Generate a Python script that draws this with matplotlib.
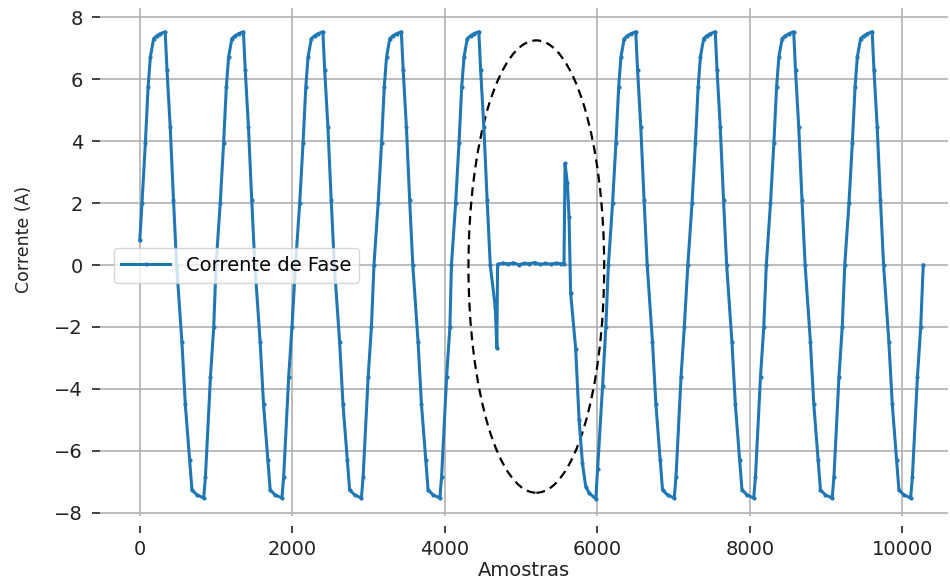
import matplotlib as mpl
mpl.use('Agg')
import matplotlib.pyplot as plt
from matplotlib.patches import Ellipse
import numpy as np

# one period of the phase current
# (sample offset from the rising zero crossing, current in A)
cycle_offsets = [0, 55, 99, 135, 165, 208, 250, 297, 359, 383, 425, 468, 509,
                 578, 623, 679, 710, 776, 864, 887, 953, 996, 1029]
cycle_values = [0.0, 2.0, 3.93, 5.75, 6.72, 7.31, 7.40, 7.47, 7.53, 6.29, 4.46, 2.1, 0.0,
                -2.47, -4.5, -6.3, -7.26, -7.42, -7.52, -6.83, -3.6, -1.99, 0.0]

# rising zero crossings of each full cycle
cycle_starts = [-26, 1000, 2042, 3071, 4087, 6145, 7187, 8216, 9245]

# the interruption (fault) between ~4600 and ~6100 samples
gap_x = [4661, 4683, 4692, 4760, 4830, 4900, 4970, 5040, 5110, 5180, 5250, 5320,
         5390, 5460, 5530, 5563, 5577, 5607, 5629, 5650, 5716, 5761, 5805, 5848,
         5893, 5980, 6003, 6069, 6112]
gap_y = [-1.35, -2.69, 0.02, 0.06, 0.03, 0.07, 0.01, 0.05, 0.04, 0.08, 0.02, 0.05,
         0.03, 0.06, 0.04, 0.03, 3.28, 2.64, 1.56, -0.9, -2.7, -5.0, -6.4, -7.15,
         -7.36, -7.55, -6.6, -3.9, -1.99]

# dashed ellipse marking the fault
ell_center = (5200, -0.05)
ell_width = 1780
ell_height = 14.6

# assemble the trace
xs = [0]
ys = [0.8]
for i, start in enumerate(cycle_starts):
	last = (i == len(cycle_starts) - 1)
	for off, val in zip(cycle_offsets, cycle_values):
		x = start + off
		if x <= xs[-1]:
			continue
		if off == cycle_offsets[-1] and not last:
			continue
		xs.append(x)
		ys.append(val)
		# cycle 5 is cut at its falling zero crossing
		if start == 4087 and off == 509:
			break
	if start == 4087:
		xs.extend(gap_x)
		ys.extend(gap_y)

fig = plt.figure(figsize=(9.5, 5.85), dpi=100)
ax = fig.add_axes([0.105, 0.118, 0.893, 0.868])

ax.plot(xs, ys, color='#1f77b4', lw=2.2, marker='.', markersize=4, label='Corrente de Fase')
ax.add_patch(Ellipse(ell_center, ell_width, ell_height, fill=False, color='black',
                     lw=1.6, linestyle=(0, (4, 2.5))))

ax.set_xlim(-525, 10600)
ax.set_ylim(-8.1, 8.29)
ax.set_xticks(np.arange(0, 10001, 2000))
ax.set_yticks(np.arange(-8, 9, 2))
ax.grid(True, color='#b0b0b0', lw=1.2)
ax.set_axisbelow(True)

for s in ax.spines.values():
	s.set_visible(False)
ax.spines['bottom'].set_position(('outward', 7))

ax.tick_params(axis='x', length=5, width=1.3, color='#333333', labelsize=14, labelcolor='#222222', pad=5)
ax.tick_params(axis='y', length=6, width=1.3, color='#333333', labelsize=14, labelcolor='#222222', pad=6)

ax.set_xlabel('Amostras', fontsize=14, color='#222222', labelpad=2)
ax.set_ylabel('Corrente (A)', fontsize=12.5, color='#222222')
ax.yaxis.set_label_coords(-0.079, 0.545)

ax.legend(loc='center left', bbox_to_anchor=(0.005, 0.493), fontsize=14, framealpha=0.8,
          edgecolor='#cccccc', handlelength=2.5)

plt.savefig('out.png', dpi=100)
plt.close(fig)
